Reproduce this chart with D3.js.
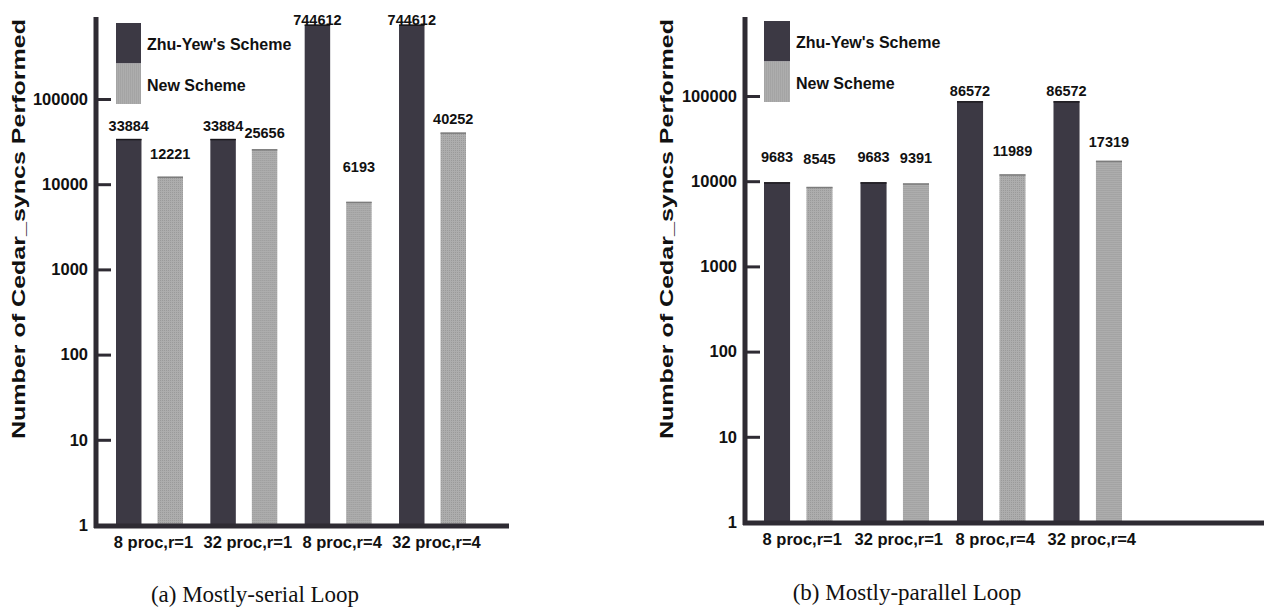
<html lang="en">
<head>
<meta charset="utf-8">
<script src="https://cdn.jsdelivr.net/npm/d3@7"></script>
<style>
  body { margin: 0; background: #fff; }
  text { font-family: "Liberation Sans", Arial, Helvetica, sans-serif; font-weight: bold; fill: #111; }
  .caption { font-family: "Liberation Serif", "Times New Roman", serif; font-weight: normal; font-size: 23px; }
  .tick text { font-size: 16.5px; }
  .tick line { stroke: #2e2b33; stroke-width: 3; }
  .val { font-size: 14.5px; text-anchor: middle; }
  .cat { font-size: 16.5px; text-anchor: middle; }
  .leg { font-size: 16px; }
</style>
</head>
<body>
<div id="chart"></div>
<script>
// data
var categories = ["8 proc,r=1", "32 proc,r=1", "8 proc,r=4", "32 proc,r=4"];
var series = ["Zhu-Yew's Scheme", "New Scheme"];
var serialZhuYew = [33884, 33884, 744612, 744612];
var serialNew = [12221, 25656, 6193, 40252];
var parallelZhuYew = [9683, 9683, 86572, 86572];
var parallelNew = [8545, 9391, 11989, 17319];
var tickValues = [1, 10, 100, 1000, 10000, 100000];
var yTitle = "Number of Cedar_syncs Performed";

var colors = ["#3c3944", "url(#stip)"];

var svg = d3.select("#chart").append("svg")
    .attr("width", 1264)
    .attr("height", 609);

// light stipple like the printed grey bars
var pat = svg.append("defs").append("pattern")
    .attr("id", "stip")
    .attr("patternUnits", "userSpaceOnUse")
    .attr("width", 2).attr("height", 2);
pat.append("rect").attr("width", 2).attr("height", 2).style("fill", "#adadad");
pat.append("rect").attr("width", 1).attr("height", 1).style("fill", "#9a9a9a");

var panels = [
  {caption: "(a) Mostly-serial Loop", a: serialZhuYew, b: serialNew,
   axisX: 96, bottom: 525, top: 17, x0: 116, x1: 466, right: 509,
   titleX: 25, capX: 255, capY: 602, legX: 116, legY: 23, legW: 25,
   // how far each value label sits above its bar (dark, light)
   liftA: [8, 8, 0, 0], liftB: [18, 11, 30, 9]},
  {caption: "(b) Mostly-parallel Loop", a: parallelZhuYew, b: parallelNew,
   axisX: 745, bottom: 522, top: 17, x0: 764, x1: 1122, right: 1264,
   titleX: 673, capX: 907, capY: 600, legX: 764, legY: 21, legW: 26,
   liftA: [20, 20, 5, 5], liftB: [23, 21, 18, 14]}
];

panels.forEach(function(p) {
  var g = svg.append("g");

  var y = d3.scaleLog()
      .domain([1, 1e6])
      .range([p.bottom, p.bottom - 6 * 85.2]);

  var x = d3.scaleBand()
      .domain(categories)
      .range([p.x0, p.x1])
      .paddingInner(0.29)
      .paddingOuter(0);

  var xs = d3.scaleBand()
      .domain(series)
      .range([0, x.bandwidth()])
      .paddingInner(0.386);

  var rows = categories.map(function(c, i) {
    return [{cat: c, s: series[0], v: p.a[i], lift: p.liftA[i]},
            {cat: c, s: series[1], v: p.b[i], lift: p.liftB[i]}];
  });

  var grp = g.selectAll(".grp")
    .data(rows)
    .enter().append("g")
      .attr("class", "grp")
      .attr("transform", function(d) { return "translate(" + x(d[0].cat) + ",0)"; });

  grp.selectAll("rect")
    .data(function(d) { return d; })
    .enter().append("rect")
      .attr("x", function(d) { return xs(d.s); })
      .attr("y", function(d) { return y(d.v); })
      .attr("width", xs.bandwidth())
      .attr("height", function(d) { return y(1) - y(d.v); })
      .style("fill", function(d, i) { return colors[i]; });

  // thin dark edge on top of each bar
  grp.selectAll(".edge")
    .data(function(d) { return d; })
    .enter().append("line")
      .attr("class", "edge")
      .attr("x1", function(d) { return xs(d.s); })
      .attr("x2", function(d) { return xs(d.s) + xs.bandwidth(); })
      .attr("y1", function(d) { return y(d.v) + 0.5; })
      .attr("y2", function(d) { return y(d.v) + 0.5; })
      .style("stroke", function(d, i) { return i ? "#7c7c7c" : "#1a181d"; })
      .style("stroke-width", 1.5);

  grp.selectAll(".val")
    .data(function(d) { return d; })
    .enter().append("text")
      .attr("class", "val")
      .attr("x", function(d) { return xs(d.s) + xs.bandwidth() / 2; })
      .attr("y", function(d) { return y(d.v) - d.lift; })
      .text(function(d) { return d.v; });

  // y axis: ticks point right, labels on the left
  var yAxis = d3.axisLeft(y)
      .tickValues(tickValues)
      .tickFormat(d3.format("d"))
      .tickSize(-15)
      .tickPadding(8);

  var ga = g.append("g")
      .attr("transform", "translate(" + p.axisX + ",0)")
      .call(yAxis);
  ga.select(".domain").remove();
  ga.selectAll(".tick text").style("fill", "#111");

  g.append("line")
      .attr("x1", p.axisX).attr("x2", p.axisX)
      .attr("y1", p.top).attr("y2", p.bottom + 3)
      .style("stroke", "#2e2b33").style("stroke-width", 5);

  g.append("line")
      .attr("x1", p.axisX - 2).attr("x2", p.right)
      .attr("y1", p.bottom + 1).attr("y2", p.bottom + 1)
      .style("stroke", "#2e2b33").style("stroke-width", 5);

  g.selectAll(".cat")
    .data(categories)
    .enter().append("text")
      .attr("class", "cat")
      .attr("x", function(d) { return x(d) + x.bandwidth() / 2 + 4; })
      .attr("y", p.bottom + 23)
      .text(function(d) { return d; });

  g.append("text")
      .attr("transform", "translate(" + p.titleX + "," + 229 + ") rotate(-90)")
      .attr("text-anchor", "middle")
      .attr("textLength", 420)
      .attr("lengthAdjust", "spacingAndGlyphs")
      .style("font-size", "19px")
      .text(yTitle);

  // legend
  var leg = g.selectAll(".legend")
    .data(series)
    .enter().append("g")
      .attr("class", "legend")
      .attr("transform", function(d, i) { return "translate(" + p.legX + "," + (p.legY + i * 40.5) + ")"; });

  leg.append("rect")
      .attr("width", p.legW)
      .attr("height", 40.5)
      .style("fill", function(d, i) { return colors[i]; });

  leg.append("text")
      .attr("class", "leg")
      .attr("x", p.legW + 6)
      .attr("y", 27)
      .text(String);

  g.append("text")
      .attr("class", "caption")
      .attr("x", p.capX)
      .attr("y", p.capY)
      .attr("text-anchor", "middle")
      .text(p.caption);
});
</script>
</body>
</html>
